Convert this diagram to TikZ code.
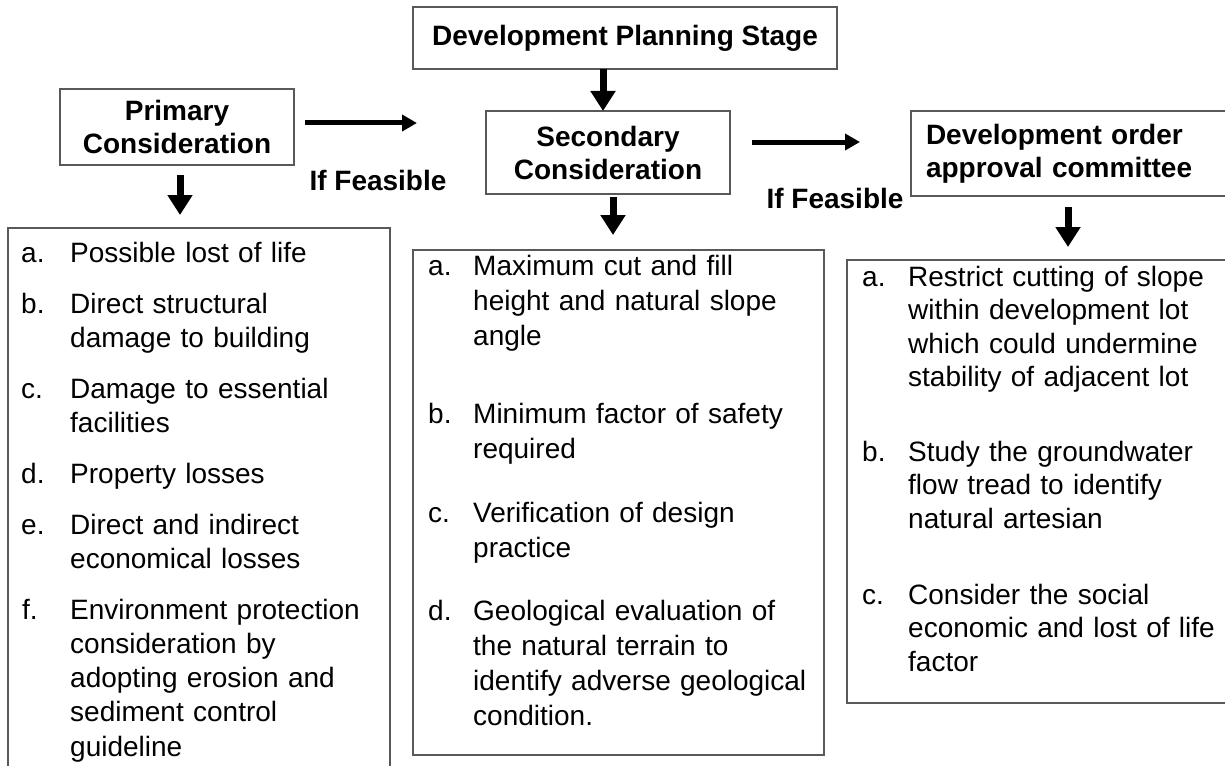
\documentclass[tikz,border=0pt]{standalone}
\usepackage{fontspec}
\setmainfont{Liberation Sans}
\usetikzlibrary{arrows.meta}
\definecolor{boxgray}{gray}{0.35}
\newcommand\ttl{\fontsize{28}{33}\selectfont\bfseries}
\newcommand\lfa{\fontsize{28}{34.3}\selectfont}
\newcommand\lfb{\fontsize{28}{35}\selectfont}
\newcommand\lfc{\fontsize{28}{33.5}\selectfont}
\begin{document}
\begin{tikzpicture}[x=1pt,y=-1pt,
  box/.style={draw=boxgray, line width=2pt, inner sep=0pt, outer sep=0pt, align=center, font=\ttl},
  listbox/.style={draw=boxgray, line width=2pt, inner sep=0pt, outer sep=0pt, anchor=north west},
  itm/.style={anchor=base west, inner sep=0pt, text width=380pt, align=left},
  lab/.style={anchor=base west, inner sep=0pt},
  varr/.style={line width=7pt, -{Triangle[width=24pt,length=20pt]}},
  harr/.style={line width=5pt, -{Triangle[width=16pt,length=15pt]}},
  feas/.style={inner sep=0pt, font=\ttl}
]
\useasboundingbox (0,0) rectangle (1225,765);
\clip (0,0) rectangle (1225,765);

% title boxes
\node[box, minimum width=424pt, minimum height=62pt] (dps) at (625,38) {Development Planning Stage};
\node[box, minimum width=244pt, minimum height=83pt] (sec) at (608,152.5) {Secondary\\Consideration};
\node[box, minimum width=234pt, minimum height=76pt] (pri) at (177,127) {Primary\\Consideration};
\node[box, anchor=north west, minimum width=330pt, minimum height=85pt, text width=300pt, align=left, inner xsep=14pt] (com) at (911,111) {Development order\\approval committee};

% list boxes
\node[listbox, minimum width=382pt, minimum height=560pt] (lbox) at (8,228) {};
\node[listbox, minimum width=411pt, minimum height=505pt] (mbox) at (413,250) {};
\node[listbox, minimum width=400pt, minimum height=443pt] (rbox) at (847,260) {};

% left list
\begin{scope}[every node/.append style={font=\lfa}]
\node[lab] (la) at (21,262) {a.};
\node[itm] (lat) at (70,262) {Possible lost of life};
\node[lab] (lb) at (21,313) {b.};
\node[itm] (lbt) at (70,313) {Direct structural\\damage to building};
\node[lab] (lc) at (21,398) {c.};
\node[itm] (lct) at (70,398) {Damage to essential\\facilities};
\node[lab] (ld) at (21,483) {d.};
\node[itm] (ldt) at (70,483) {Property losses};
\node[lab] (le) at (21,534) {e.};
\node[itm] (let) at (70,534) {Direct and indirect\\economical losses};
\node[lab] (lf) at (22,619) {f.};
\node[itm] (lft) at (70,619) {Environment protection\\consideration by\\adopting erosion and\\sediment control\\guideline};
\end{scope}

% middle list
\begin{scope}[every node/.append style={font=\lfb}]
\node[lab] (ma) at (428,275) {a.};
\node[itm] (mat) at (473,275) {Maximum cut and fill\\height and natural slope\\angle};
\node[lab] (mb) at (428,423) {b.};
\node[itm] (mbt) at (473,423) {Minimum factor of safety\\required};
\node[lab] (mc) at (428,522) {c.};
\node[itm] (mct) at (473,522) {Verification of design\\practice};
\node[lab] (md) at (428,620) {d.};
\node[itm] (mdt) at (473,620) {Geological evaluation of\\the natural terrain to\\identify adverse geological\\condition.};
\end{scope}

% right list
\begin{scope}[every node/.append style={font=\lfc}]
\node[lab] (ra) at (862,286) {a.};
\node[itm] (rat) at (908,286) {Restrict cutting of slope\\within development lot\\which could undermine\\stability of adjacent lot};
\node[lab] (rb) at (862,461) {b.};
\node[itm] (rbt) at (908,461) {Study the groundwater\\flow tread to identify\\natural artesian};
\node[lab] (rc) at (862,604) {c.};
\node[itm] (rct) at (908,604) {Consider the social\\economic and lost of life\\factor};
\end{scope}

% labels
\node[feas] (f1) at (378,180) {If Feasible};
\node[feas] (f2) at (835,198) {If Feasible};

% arrows
\coordinate (xa) at (603,0);
\coordinate (xb) at (613,0);
\coordinate (xc) at (180,0);
\coordinate (xd) at (1068,0);
\coordinate (ya) at (0,123);
\coordinate (yb) at (0,142);
\draw[varr] (dps.south -| xa) -- (sec.north -| xa);
\draw[varr, shorten <=3pt, shorten >=15pt] (sec.south -| xb) -- (mbox.north -| xb);
\draw[varr, shorten <=10pt, shorten >=13pt] (pri.south -| xc) -- (lbox.north -| xc);
\draw[varr, shorten <=11pt, shorten >=13pt] (com.south -| xd) -- (rbox.north -| xd);
\draw[harr, shorten <=11pt, shorten >=69pt] (pri.east |- ya) -- (sec.west |- ya);
\draw[harr, shorten <=22pt, shorten >=51pt] (sec.east |- yb) -- (com.west |- yb);
\end{tikzpicture}
\end{document}
